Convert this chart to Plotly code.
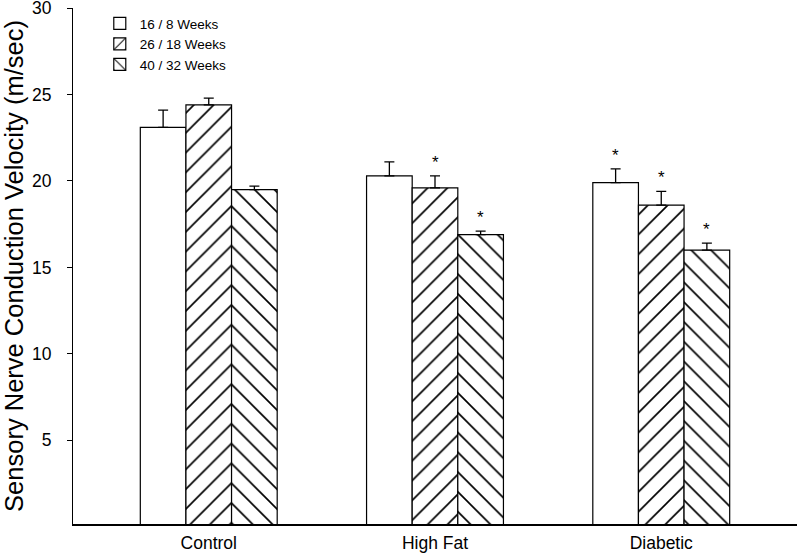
import plotly.graph_objects as go

groups = ["Control", "High Fat", "Diabetic"]
series_names = ["16 / 8 Weeks", "26 / 18 Weeks", "40 / 32 Weeks"]
vals_16 = [23.1, 20.3, 19.9]
vals_26 = [24.4, 19.6, 18.6]
vals_40 = [19.5, 16.9, 16.0]
err_16 = [1.0, 0.8, 0.8]
err_26 = [0.4, 0.7, 0.8]
err_40 = [0.2, 0.2, 0.4]
sig_16 = [False, False, True]
sig_26 = [False, True, True]
sig_40 = [False, True, True]
ytick_vals = [5, 10, 15, 20, 25, 30]

values = [vals_16, vals_26, vals_40]
errors = [err_16, err_26, err_40]
sigs = [sig_16, sig_26, sig_40]
patterns = ["", "/", "\\"]

fig = go.Figure()
for name, v, e, p in zip(series_names, values, errors, patterns):
    fig.add_trace(go.Bar(
        x=groups, y=v, name=name,
        marker=dict(color="white",
                    line=dict(color="black", width=1.2),
                    pattern=dict(shape=p, fgcolor="black", bgcolor="white",
                                 fgopacity=1, size=14, solidity=0.12)),
        error_y=dict(type="data", array=e, arrayminus=[0]*len(e),
                     color="black", thickness=1.3, width=5),
    ))

# significance asterisks
n = len(series_names)
offsets = [(i - (n - 1) / 2) for i in range(n)]
annotations = []
for si, (v, e, s) in enumerate(zip(values, errors, sigs)):
    for gi, g in enumerate(groups):
        if s[gi]:
            annotations.append(dict(
                x=gi, y=v[gi] + e[gi], xref="x", yref="y",
                text="*", showarrow=False, xanchor="center", yanchor="bottom",
                xshift=offsets[si] * 45.5, yshift=2,
                font=dict(size=17, color="black", family="Liberation Sans, Arial"),
            ))

fig.update_layout(
    width=797, height=553,
    margin=dict(l=73, r=0, t=8, b=29),
    paper_bgcolor="white", plot_bgcolor="white",
    barmode="group", bargap=0.395, bargroupgap=0,
    font=dict(family="Liberation Sans, Arial", color="black"),
    showlegend=True,
    legend=dict(x=0.037, y=1.0, xanchor="left", yanchor="top",
                bgcolor="rgba(0,0,0,0)", font=dict(size=13.5),
                tracegroupgap=0, itemwidth=30),
    annotations=annotations,
)
fig.update_xaxes(
    range=[-0.6, 2.6], showline=True, linecolor="black", linewidth=1.5,
    ticks="", showgrid=False, zeroline=False, automargin=False,
    tickfont=dict(size=17.5), ticklabelstandoff=2,
)
fig.update_yaxes(
    range=[0.15, 30.01], showline=True, linecolor="black", linewidth=1,
    ticks="outside", ticklen=5, tickcolor="black",
    tickvals=ytick_vals, ticktext=[str(t) for t in ytick_vals],
    showgrid=False, zeroline=False, ticklabeloverflow="allow", automargin=False,
    tickfont=dict(size=17.5), ticklabelstandoff=12,
    title=dict(text="Sensory Nerve Conduction Velocity (m/sec)",
               font=dict(size=25.5), standoff=6),
)

fig.write_html("out.html", config={"displayModeBar": False},
               post_script="document.body.style.margin='0';")
